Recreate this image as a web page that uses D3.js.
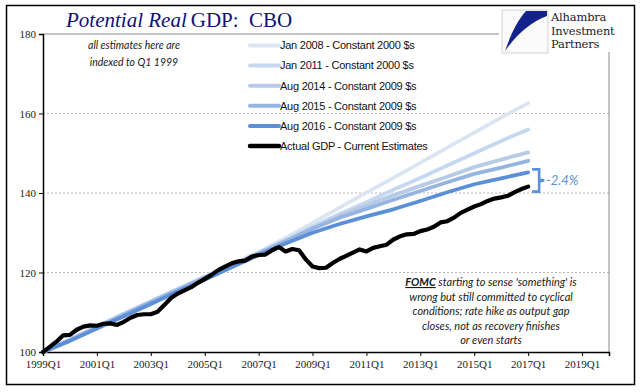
<!DOCTYPE html>
<html>
<head>
<meta charset="utf-8">
<script src="https://cdn.jsdelivr.net/npm/d3@7"></script>
<style>
  body { margin: 0; background: #fff; }
  svg { display: block; }
  .tick-label { font-family: "Liberation Serif", serif; font-size: 11px; fill: #222; }
  .legend-label { font-family: "Liberation Sans", Arial, sans-serif; font-size: 11px; fill: #111; letter-spacing: -0.25px; }
  .note { font-family: Lato, "Open Sans", sans-serif; font-style: italic; font-size: 10.5px; fill: #1a1a1a; }
  .fomc { font-size: 11px; }
</style>
</head>
<body>
<div id="chart"></div>
<script>
// quarterly axis ticks (every two years)
var tickLabels = ["1999Q1", "2001Q1", "2003Q1", "2005Q1", "2007Q1", "2009Q1",
                  "2011Q1", "2013Q1", "2015Q1", "2017Q1", "2019Q1"];

// actual real GDP, quarterly from 1999Q1, indexed 1999Q1 = 100
var actualGDP = [
  100.0, 101.3, 102.6, 104.2, 104.3, 105.6, 106.4, 106.7,
  106.6, 107.1, 107.2, 106.8, 107.6, 108.6, 109.3, 109.5,
  109.5, 110.1, 111.8, 113.6, 114.7, 115.5, 116.3, 117.4,
  118.4, 119.4, 120.6, 121.5, 122.3, 122.8, 123.0, 124.0,
  124.4, 124.5, 125.6, 126.4, 125.3, 125.9, 125.6, 123.3,
  121.5, 121.1, 121.2, 122.4, 123.4, 124.2, 125.0, 125.8,
  125.3, 126.2, 126.6, 127.0, 128.3, 129.1, 129.6, 129.7,
  130.4, 130.8, 131.5, 132.6, 132.9, 133.8, 135.0, 135.8,
  136.6, 137.2, 138.0, 138.6, 138.9, 139.3, 140.2, 141.0,
  141.6
];

// CBO potential GDP vintages, read at each Q1 from 1999Q1 to 2017Q1
var annualQ1 = ["1999Q1", "2000Q1", "2001Q1", "2002Q1", "2003Q1", "2004Q1", "2005Q1",
                "2006Q1", "2007Q1", "2008Q1", "2009Q1", "2010Q1", "2011Q1", "2012Q1",
                "2013Q1", "2014Q1", "2015Q1", "2016Q1", "2017Q1"];
var jan2008 = [100, 103.1, 106.4, 109.6, 112.8, 115.9, 119.0, 122.0, 125.1, 128.7,
               132.5, 136.3, 140.1, 143.8, 147.6, 151.4, 155.2, 159.0, 162.6];
var jan2011 = [100, 103.1, 106.4, 109.6, 112.7, 115.8, 118.9, 121.9, 125.0, 128.2,
               131.6, 134.7, 137.7, 140.8, 143.8, 146.9, 150.0, 153.1, 156.0];
var aug2014 = [100, 103.0, 106.3, 109.5, 112.6, 115.7, 118.8, 121.8, 124.9, 128.0,
               131.2, 134.2, 136.9, 139.4, 141.8, 144.1, 146.5, 148.4, 150.2];
var aug2015 = [100, 103.0, 106.2, 109.4, 112.5, 115.6, 118.7, 121.7, 124.7, 127.8,
               131.0, 133.8, 136.0, 138.3, 140.5, 142.7, 144.8, 146.4, 148.1];
var aug2016 = [100, 102.8, 105.9, 109.0, 112.1, 115.2, 118.2, 121.3, 124.4, 127.3,
               130.0, 132.2, 134.1, 135.9, 138.0, 140.2, 142.2, 143.7, 145.2];

var seriesNames = ["Jan 2008 - Constant 2000 $s", "Jan 2011 - Constant 2000 $s",
                   "Aug 2014 - Constant 2009 $s", "Aug 2015 - Constant 2009 $s",
                   "Aug 2016 - Constant 2009 $s", "Actual GDP - Current Estimates"];
var seriesColors = ["#dbe5f2", "#c6d8ef", "#b7cbe6", "#96b4e0", "#5b8fd8", "#000000"];

var yTicks = [100, 120, 140, 160, 180];
var gapLabel = "-2.4%";

var noteLines = ["all estimates here are", "indexed to Q1 1999"];
var fomcLines = ["starting to sense 'something' is", "wrong but still committed to cyclical",
                 "conditions; rate hike as output gap", "closes, not as recovery finishes",
                 "or even starts"];
var logoLines = ["Alhambra", "Investment", "Partners"];

function qIndex(label) {
  return (+label.slice(0, 4) - 1999) * 4 + (+label.slice(5) - 1);
}

var W = 641, H = 392;
var plot = {left: 43, right: 609, top: 34, bottom: 352};

var svg = d3.select("#chart").append("svg")
  .attr("width", W)
  .attr("height", H);

var x = d3.scaleLinear().domain([0, 84]).range([plot.left, plot.right]);
var y = d3.scaleLinear().domain([100, 180]).range([plot.bottom, plot.top]);

// gridlines
svg.append("g")
  .selectAll("line")
  .data(yTicks.filter(function(d) { return d > 100 && d < 180; }))
  .enter().append("line")
  .attr("x1", plot.left).attr("x2", plot.right)
  .attr("y1", function(d) { return y(d); })
  .attr("y2", function(d) { return y(d); })
  .attr("stroke", "#b5b5b5")
  .attr("stroke-dasharray", "2,2");

// plot box top + right (grey)
svg.append("path")
  .attr("d", "M" + plot.left + "," + y(180) + "H" + plot.right + "V" + plot.bottom)
  .attr("fill", "none")
  .attr("stroke", "#8c8c8c")
  .attr("stroke-width", 1);

// axes
var yAxis = d3.axisLeft(y).tickValues(yTicks).tickSize(4).tickFormat(d3.format("d"));
var gy = svg.append("g")
  .attr("transform", "translate(" + plot.left + ",0)")
  .call(yAxis);
gy.select(".domain").attr("stroke", "#000").attr("stroke-width", 1.5);
gy.selectAll(".tick line").attr("stroke", "#000");
gy.selectAll(".tick text").attr("class", "tick-label").attr("x", -7).attr("dy", "0.34em");

var xAxis = d3.axisBottom(x)
  .tickValues(tickLabels.map(qIndex))
  .tickSize(4)
  .tickFormat(function(d, i) { return tickLabels[i]; });
var gx = svg.append("g")
  .attr("transform", "translate(0," + plot.bottom + ")")
  .call(xAxis);
gx.select(".domain").attr("stroke", "#000").attr("stroke-width", 1.5);
gx.selectAll(".tick line").attr("stroke", "#000");
gx.selectAll(".tick text").attr("class", "tick-label").attr("y", 8);

// lines
var line = d3.line()
  .x(function(d) { return x(d[0]); })
  .y(function(d) { return y(d[1]); });

var potential = [jan2008, jan2011, aug2014, aug2015, aug2016].map(function(vals) {
  return vals.map(function(v, i) { return [qIndex(annualQ1[i]), v]; });
});
var actual = actualGDP.map(function(v, i) { return [i, v]; });
var allSeries = potential.concat([actual]);

svg.append("g")
  .selectAll("path")
  .data(allSeries)
  .enter().append("path")
  .attr("d", line)
  .attr("fill", "none")
  .attr("stroke", function(d, i) { return seriesColors[i]; })
  .attr("stroke-width", function(d, i) { return i === 5 ? 4.2 : 3.8; })
  .attr("stroke-linejoin", "round")
  .attr("stroke-linecap", "round");

// legend
var legend = svg.append("g").attr("transform", "translate(250,45.5)");
var li = legend.selectAll("g")
  .data(seriesNames)
  .enter().append("g")
  .attr("transform", function(d, i) { return "translate(0," + i * 20.1 + ")"; });
li.append("line")
  .attr("x1", 0).attr("x2", 29)
  .attr("stroke", function(d, i) { return seriesColors[i]; })
  .attr("stroke-width", function(d, i) { return i === 5 ? 4.5 : 4; })
  .attr("stroke-linecap", "round");
li.append("text")
  .attr("class", "legend-label")
  .attr("x", 30)
  .attr("dy", "0.35em")
  .text(function(d) { return d; });

// note top left
svg.append("g").selectAll("text")
  .data(noteLines)
  .enter().append("text")
  .attr("class", "note")
  .attr("x", 134)
  .attr("y", function(d, i) { return 48.5 + i * 17; })
  .attr("text-anchor", "middle")
  .text(function(d) { return d; });

// gap bracket at the end
var endQ = actualGDP.length - 1;
var yTop = y(aug2016[aug2016.length - 1]) - 3;
var yBot = y(actualGDP[endQ]) + 5;
var bx = x(endQ) + 4;
var bracketColor = "#5b8fd8";
svg.append("path")
  .attr("d", "M" + bx + "," + yTop + "H" + (bx + 7) + "V" + ((yTop + yBot) / 2 - 1) +
             "L" + (bx + 12) + "," + ((yTop + yBot) / 2) +
             "L" + (bx + 7) + "," + ((yTop + yBot) / 2 + 1) + "V" + yBot + "H" + bx)
  .attr("fill", "none")
  .attr("stroke", bracketColor)
  .attr("stroke-width", 2.6);
svg.append("text")
  .attr("x", bx + 14)
  .attr("y", (yTop + yBot) / 2 + 4.5)
  .attr("font-family", "Lato, sans-serif")
  .attr("font-style", "italic")
  .attr("font-size", "13px")
  .attr("fill", bracketColor)
  .text(gapLabel);

// FOMC annotation
var fomc = svg.append("g");
fomcLines.forEach(function(t, i) {
  var tx = fomc.append("text")
    .attr("class", "note fomc")
    .attr("x", 491)
    .attr("y", 286 + i * 14.6)
    .attr("text-anchor", "middle");
  if (i === 0) {
    tx.append("tspan")
      .attr("font-weight", "bold")
      .attr("text-decoration", "underline")
      .text("FOMC");
    tx.append("tspan").text(" " + t);
  } else {
    tx.text(t);
  }
});

// title
var title = svg.append("text")
  .attr("x", 66)
  .attr("y", 27)
  .attr("font-family", "Liberation Serif, serif")
  .attr("font-size", "21px")
  .attr("fill", "#10107a");
title.append("tspan").attr("font-style", "italic").text("Potential Real");
title.append("tspan").attr("dx", 4).text("GDP:  CBO");
title.attr("xml:space", "preserve");

// logo
var logo = svg.append("g");
logo.append("rect")
  .attr("x", 499).attr("y", 7).attr("width", 133).attr("height", 45)
  .attr("fill", "#fff");
logo.append("rect")
  .attr("x", 502).attr("y", 10).attr("width", 46).attr("height", 43)
  .attr("fill", "#fafafa").attr("stroke", "#d4d4d4");
logo.append("path")
  .attr("d", "M526,11 L547,11 L547,16 C531,22 517,34 505,51 C511,34 517,21 526,11 Z")
  .attr("fill", "#14238c");
logo.selectAll("text.logo")
  .data(logoLines)
  .enter().append("text")
  .attr("x", 551)
  .attr("y", function(d, i) { return 21 + i * 13.6; })
  .attr("font-family", "DejaVu Serif, serif")
  .attr("font-size", "11.5px")
  .attr("letter-spacing", "-0.2px")
  .attr("fill", "#1b1b2e")
  .text(function(d) { return d; });

// outer frame
svg.append("rect")
  .attr("x", 6.5).attr("y", 5.5)
  .attr("width", 628).attr("height", 379)
  .attr("fill", "none")
  .attr("stroke", "#000")
  .attr("stroke-width", 1.5);
</script>
</body>
</html>
